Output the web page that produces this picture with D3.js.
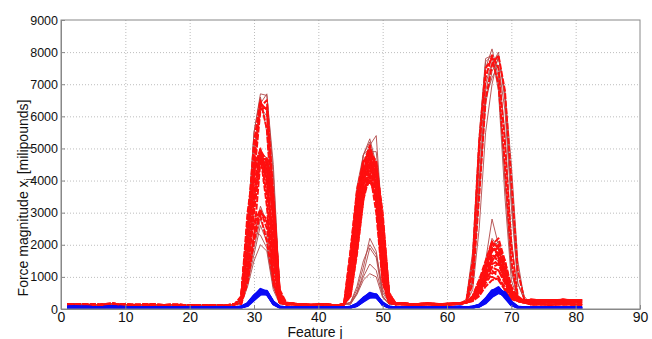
<!DOCTYPE html>
<html><head><meta charset="utf-8">
<script src="https://cdn.jsdelivr.net/npm/d3@7"></script>
<style>body{margin:0;background:#fff}svg{display:block}</style>
</head><body><div id="chart"></div>
<script>
// ---------- data ----------
const features = [1,2,3,4,5,6,7,8,9,10,11,12,13,14,15,16,17,18,19,20,21,22,23,24,25,26,27,28,29,30,31,32,33,34,35,36,37,38,39,40,41,42,43,44,45,46,47,48,49,50,51,52,53,54,55,56,57,58,59,60,61,62,63,64,65,66,67,68,69,70,71,72,73,74,75,76,77,78,79,80,81];
const xTicks = [0,10,20,30,40,50,60,70,80,90];
const yTicks = [0,1000,2000,3000,4000,5000,6000,7000,8000,9000];
// first feature of each peak window
const peakStarts = [27,44,63];

const redBaseA = [130,140,135,125,130,120,140,150,135,125, 120,115,125,130,120,110,115,120,110,105, 110,100,105,110,100,110,140,180,150,150, 150,150,150,150,200,160,140,130,120,130, 140,120,110,130,150,160,150,150,150,150, 150,200,170,150,140,150,160,150,140,150, 160,170,200,200,200,200,200,200,200,200, 200,290,285,280,280,275,280,285,280,275, 280];
const redBaseB = [100,110,120,115,105,100,110,130,120,110, 100,95,100,110,105,100,95,100,95,90, 95,90,95,100,90,100,120,160,140,140, 140,140,140,140,180,150,130,120,115,120, 130,110,105,120,140,150,140,140,140,140, 140,180,150,140,130,140,150,140,130,140, 150,160,180,180,180,180,180,180,180,180, 180,160,150,150,145,140,145,150,145,140, 140];
const redBaseC = [150,160,150,140,145,135,155,170,150,140, 135,130,140,145,135,125,130,135,125,120, 125,115,120,125,115,125,160,200,160,160, 160,160,160,160,220,170,150,140,130,140, 150,130,120,140,160,170,160,160,160,160, 160,210,180,160,150,160,170,160,150,160, 170,180,210,210,210,210,210,210,210,210, 210,230,225,220,220,215,220,225,220,215, 220];
const blueBaseA = [40,50,45,40,45,35,50,55,45,40, 35,30,35,40,35,30,30,35,30,25, 30,25,30,35,30,35,40,60,60,60, 60,60,60,60,50,40,35,30,30,35, 40,35,30,35,40,50,60,60,60,60, 60,50,40,35,30,30,35,30,30,35, 40,45,50,60,60,60,60,60,60,60, 60,40,35,30,30,30,30,35,30,30, 30];
const blueBaseB = [60,70,65,60,55,50,65,80,60,55, 50,45,50,55,50,45,45,50,45,40, 45,40,45,50,45,50,55,60,60,60, 60,60,60,60,60,55,50,45,45,50, 55,50,45,50,55,60,60,60,60,60, 60,60,55,50,45,45,50,45,45,50, 55,60,60,60,60,60,60,60,60,60, 60,55,50,45,45,45,45,50,45,45, 45];

// bright red (dashed) series (peak windows: features 27-35, 44-52, 63-72)
const redBaseKey = ["A","B","C","A","B","C","A","B","C","A","B","C","A","B","C","A","B","C","A","B"];
const redPeak1 = [
 [150,300,2800,4500,4900,4000,1600,250,150],[150,200,1300,3600,4950,4600,3300,500,180],
 [150,400,2600,4500,4800,3200,800,200,150],[150,250,1100,3000,4700,4400,3000,400,160],
 [150,300,2200,4200,5000,4000,2200,200,150],[150,150,800,2200,4600,4700,3500,600,200],
 [150,350,3000,4500,4850,3500,1000,200,150],[150,200,1300,3500,4750,4300,3200,300,150],
 [150,300,2000,3900,4900,3900,2300,200,150],[150,250,1200,3300,4800,4500,2800,350,150],
 [150,200,1600,2700,3100,2500,1300,200,150],[150,150,900,2100,3000,2800,2000,300,150],
 [150,250,1800,2700,2900,2100,900,200,150],[150,200,1000,2300,3050,2700,1700,250,150],
 [150,300,2300,4800,6400,6200,3200,400,150],[150,250,2000,4500,6300,6500,3600,500,160],
 [150,350,2600,5200,6500,5600,2600,300,150],[150,200,1600,4100,6200,6300,3400,450,160],
 [150,300,2700,4400,4950,4200,1800,200,150],[150,250,1400,3100,4850,4600,3200,400,150]];
const redPeak2 = [
 [150,1000,3000,4300,4700,3800,1300,250,150],[150,500,2000,3800,4500,4300,2500,400,180],
 [150,1800,3600,4400,4300,3000,800,200,150],[150,700,2500,4100,4800,4000,2000,300,170],
 [150,1300,3300,4300,4200,3400,1100,200,150],[150,400,1800,3400,4200,4200,2800,500,180],
 [150,1600,3500,4500,4500,3300,900,200,150],[150,800,2800,4300,5000,4200,1800,250,160],
 [150,600,2200,4000,4900,4500,2700,400,170],[150,1400,3500,4600,4900,3700,1000,200,150],
 [150,900,2600,3700,4100,3400,1500,250,150],[150,450,1900,3500,4400,4000,2500,400,170],
 [150,1200,3200,4300,4700,3700,1400,200,150],[150,700,2400,3600,4000,3500,1800,300,160],
 [150,1000,3000,4500,5100,4300,1700,250,150],[150,500,2100,3800,4900,4600,2800,400,180],
 [150,1800,3700,4600,4700,3500,900,200,150],[150,400,1700,3400,4600,4500,3000,500,180],
 [150,1100,3000,4100,4500,3800,1500,200,150],[150,700,2600,4200,4800,4100,2000,300,160]];
const redPeak3 = [
 [200,400,800,1400,2100,1900,1200,500,300,250],[200,300,600,1200,1800,2000,1500,700,350,250],
 [200,350,700,1000,1500,1400,900,400,250,200],[200,300,600,1100,1300,1400,1100,500,300,250],
 [200,250,450,800,1100,1200,900,400,250,200],[200,350,600,900,1200,1000,600,350,250,200],
 [200,300,600,1000,1600,1700,1200,500,300,250],[200,300,500,900,1000,900,600,300,250,200],
 [200,400,900,1300,1900,1700,1000,450,300,250],[200,300,550,1000,1400,1500,1200,600,300,250],
 [200,250,400,700,900,950,700,350,250,200],[200,350,700,1100,1700,1500,900,400,300,250],
 [200,1200,5000,7200,7900,7500,5200,2000,400,250],[200,800,3500,6500,7600,7900,6800,4000,1200,300],
 [250,1500,5200,7500,7800,7000,4500,1500,300,250],[200,350,700,1200,2000,2200,1500,600,300,250],
 [200,300,600,1000,1500,1800,1300,500,300,250],[200,400,900,1500,2100,1600,900,400,300,250],
 [200,300,500,900,1300,1200,800,400,250,200],[200,350,800,1300,1800,1900,1400,600,300,250]];

// thin dark-red series
const brownBaseKey = ["C","A","B","C","A","B","C","A","B","C","A","B"];
const brownPeak1 = [
 [150,300,2300,5500,6700,6650,4500,500,150],[150,250,2000,5000,6400,6700,4200,600,160],
 [150,200,1800,4600,6300,6000,3500,300,150],[150,350,2600,5500,6600,5500,2800,250,150],
 [150,200,900,1900,2800,2300,800,200,150],[150,150,700,1500,2000,1800,600,150,150],
 [150,200,800,1700,2600,2100,700,200,150],[150,200,1100,2300,3200,2700,900,200,150],
 [150,250,1300,3200,4900,4700,2800,300,150],[150,300,2500,4200,5000,4300,1300,250,150],
 [150,200,1000,2400,2300,1900,700,200,150],[150,250,1600,3500,4800,4400,3000,250,150]];
const brownPeak2 = [
 [150,900,3300,4800,5300,4500,1300,250,150],[150,500,2300,4300,5100,5400,2500,300,150],
 [150,1500,3800,4800,5000,3700,1000,200,150],[150,200,600,1300,2200,1800,500,200,150],
 [150,150,500,1100,1900,1600,400,150,150],[150,200,500,1000,1400,1200,400,150,150],
 [150,150,450,900,1100,1000,350,150,150],[150,1200,3400,4800,5200,4300,1200,250,150],
 [150,400,2000,3800,4900,4900,2800,300,150],[150,200,700,1500,2000,1700,600,200,150],
 [150,1400,3600,4600,4900,3900,1000,200,150],[150,700,2600,4300,5000,4400,2200,250,150]];
const brownPeak3 = [
 [200,1500,5200,7500,8100,7200,4000,1200,300,250],[200,900,3800,6800,7600,8000,6500,3500,800,300],
 [200,600,2500,5500,7000,7900,6700,3800,1200,400],[300,1800,5400,7800,7900,6800,3500,900,300,250],
 [200,300,700,1500,2800,2000,900,400,300,250],[200,300,600,1200,1900,2100,1400,600,300,250],
 [200,1300,4500,7000,7700,7500,5500,2200,400,250],[200,800,3500,6400,7400,7800,6800,4500,1500,300],
 [200,350,800,1300,2200,1900,1000,450,300,250],[200,300,500,1000,1600,1500,900,400,250,200],
 [200,1000,4000,6600,7200,7600,6200,3200,800,300],[250,1600,5200,7700,7900,7000,4200,1300,300,250]];

// blue series
const blueBaseKey = ["A","B","A","B","A","B","A","B","A","B"];
const bluePeak1 = [
 [50,60,150,380,600,520,180,60,50],[50,50,120,330,550,560,220,70,50],[50,70,180,420,580,470,150,50,45],
 [50,50,110,300,500,520,230,70,50],[50,60,160,400,620,540,190,60,50],[50,50,130,350,480,450,180,60,50],
 [50,60,140,360,560,500,170,55,50],[50,55,120,320,520,540,210,65,50],[50,65,170,410,570,480,160,50,45],
 [50,50,100,280,450,470,200,60,50]];
const bluePeak2 = [
 [40,60,130,300,470,430,150,60,50],[40,50,110,270,430,450,180,60,50],[40,70,160,350,480,400,130,50,45],
 [40,50,100,250,400,420,200,70,50],[40,60,150,330,500,440,160,60,50],[40,50,120,280,380,360,140,50,45],
 [40,60,140,310,450,420,150,55,50],[40,55,110,260,420,440,190,65,50],[40,65,150,340,460,390,130,50,45],
 [40,50,100,230,360,380,170,60,50]];
const bluePeak3 = [
 [50,60,100,250,500,650,450,150,50,40],[50,50,90,220,450,620,500,200,60,40],[50,70,130,320,580,600,350,120,50,40],
 [50,50,80,200,420,580,520,230,70,45],[50,60,120,300,560,680,420,140,50,40],[50,50,90,230,400,520,400,150,50,40],
 [50,60,110,270,520,640,430,160,55,40],[50,55,90,210,440,600,480,210,65,45],[50,65,130,300,550,620,380,130,50,40],
 [50,50,80,180,380,500,430,180,60,45]];

// ---------- assemble series from the read values ----------
const bases = {red: {A: redBaseA, B: redBaseB, C: redBaseC}, blue: {A: blueBaseA, B: blueBaseB}};
function assemble(baseSet, keys, p1, p2, p3) {
  return keys.map((k, i) => {
    const vals = baseSet[k].slice();
    [p1[i], p2[i], p3[i]].forEach((win, w) => {
      win.forEach((v, j) => { vals[peakStarts[w] - 1 + j] = v; });
    });
    return features.map((f, j) => ({f, v: vals[j]}));
  });
}
const redSeries = assemble(bases.red, redBaseKey, redPeak1, redPeak2, redPeak3);
const brownSeries = assemble(bases.red, brownBaseKey, brownPeak1, brownPeak2, brownPeak3);
const blueSeries = assemble(bases.blue, blueBaseKey, bluePeak1, bluePeak2, bluePeak3);

// ---------- drawing ----------
const W = 652, H = 339;
const m = {left: 61, right: 12, top: 20, bottom: 30};
const FONT = "'Liberation Sans', Arial, sans-serif";
const svg = d3.select("#chart").append("svg").attr("width", W).attr("height", H)
  .style("font-family", FONT);

const x = d3.scaleLinear().domain([0, 90]).range([m.left, W - m.right]);
const y = d3.scaleLinear().domain([0, 9000]).range([H - m.bottom, m.top]);
const pw = W - m.right - m.left, ph = H - m.bottom - m.top;

// grid
svg.append("g").attr("transform", `translate(0,${y(0)})`)
  .call(d3.axisBottom(x).tickValues(xTicks.slice(1, -1)).tickSize(-ph).tickFormat(""))
  .call(g => g.select(".domain").remove())
  .call(g => g.selectAll("line").attr("stroke", "#bdbdbd").attr("stroke-dasharray", "1,2"));
svg.append("g").attr("transform", `translate(${x(0)},0)`)
  .call(d3.axisLeft(y).tickValues(yTicks.slice(1, -1)).tickSize(-pw).tickFormat(""))
  .call(g => g.select(".domain").remove())
  .call(g => g.selectAll("line").attr("stroke", "#bdbdbd").attr("stroke-dasharray", "1,2"));

svg.append("clipPath").attr("id", "clip").append("rect")
  .attr("x", m.left).attr("y", m.top).attr("width", pw).attr("height", ph);

const line = d3.line().x(d => x(d.f)).y(d => y(d.v));
const plot = svg.append("g").attr("clip-path", "url(#clip)");
plot.selectAll("path.brown").data(brownSeries).join("path").attr("class", "brown")
  .attr("d", line).attr("fill", "none").attr("stroke", "#b04848").attr("stroke-width", 0.9)
  .attr("stroke-linejoin", "round");
plot.selectAll("path.red").data(redSeries).join("path").attr("class", "red")
  .attr("d", line).attr("fill", "none").attr("stroke", "#ff0f0f").attr("stroke-width", 2)
  .attr("stroke-dasharray", "6,1.5").attr("stroke-linejoin", "round");
plot.selectAll("path.blue").data(blueSeries).join("path").attr("class", "blue")
  .attr("d", line).attr("fill", "none").attr("stroke", "#0a0af5").attr("stroke-width", 2.4)
  .attr("stroke-linejoin", "round");

// axes
const xAxis = svg.append("g").attr("transform", `translate(0,${y(0)})`)
  .call(d3.axisBottom(x).tickValues(xTicks).tickFormat(d3.format("d")).tickSize(-4).tickPadding(3).tickSizeOuter(0));
xAxis.selectAll("text").attr("font-size", 14).attr("fill", "#111").attr("font-family", FONT);
const yAxis = svg.append("g").attr("transform", `translate(${x(0)},0)`)
  .call(d3.axisLeft(y).tickValues(yTicks).tickFormat(d3.format("d")).tickSize(-4).tickPadding(3).tickSizeOuter(0));
yAxis.selectAll("text").attr("font-size", 12.5).attr("fill", "#111").attr("font-family", FONT);
[xAxis, yAxis].forEach(g => {
  g.select(".domain").attr("stroke", "#888");
  g.selectAll(".tick line").attr("stroke", "#888");
});
// box
svg.append("rect").attr("x", m.left).attr("y", m.top).attr("width", pw).attr("height", ph)
  .attr("fill", "none").attr("stroke", "#888").attr("stroke-width", 1);

// labels
svg.append("text").attr("x", 315).attr("y", 337).attr("text-anchor", "middle")
  .attr("font-size", 14).attr("fill", "#111").text("Feature j");
const yl = svg.append("text").attr("transform", "translate(28,198) rotate(-90)")
  .attr("text-anchor", "middle").attr("font-size", 14).attr("fill", "#111");
yl.append("tspan").text("Force magnitude x");
yl.append("tspan").attr("dy", 4).attr("font-size", 10).text("j");
yl.append("tspan").attr("dy", -4).text(" [milipounds]");
</script></body></html>
